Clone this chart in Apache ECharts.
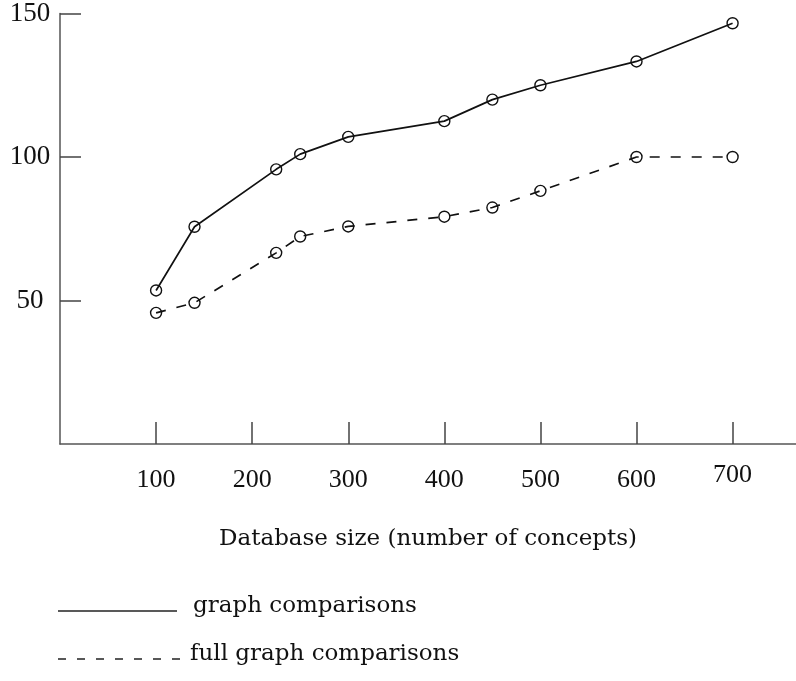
<!DOCTYPE html>
<html>
<head>
<meta charset="UTF-8">
<title>Database size chart</title>
<script src="https://cdn.jsdelivr.net/npm/echarts@6/dist/echarts.min.js"></script>
<style>
	html, body { margin: 0; padding: 0; background: #fff; }
	#main { width: 796px; height: 681px; }
</style>
</head>
<body>
	<div id="main"></div>
	<script>
		// database size (number of concepts)
		var sizes = [100, 140, 225, 250, 300, 400, 450, 500, 600, 700];
		var graphComp = [53.5, 75.7, 95.7, 101, 107, 112.5, 120, 125, 133.3, 146.6];
		var fullGraphComp = [45.7, 49.2, 66.6, 72.3, 75.8, 79.2, 82.4, 88.2, 100, 100];
		var xTicks = [100, 200, 300, 400, 500, 600, 700];
		var yTicks = [50, 100, 150];

		var serif = 'Liberation Serif';
		var textFont = 'DejaVu Serif';

		function pairs(xs, ys) {
			var out = [];
			for (var i = 0; i < xs.length; i++) out.push([xs[i], ys[i]]);
			return out;
		}

		var myChart = echarts.init(document.getElementById('main'));

		var option = {
			animation: false,
			grid: { left: 60, top: 12, right: 0, bottom: 237 },
			xAxis: {
				type: 'value',
				min: 0,
				max: 766,
				name: 'Database size (number of concepts)',
				nameLocation: 'middle',
				nameGap: 84,
				nameTextStyle: { fontFamily: textFont, fontSize: 23, color: '#111', verticalAlign: 'top' },
				axisLine: { lineStyle: { color: '#555', width: 1.5 } },
				axisTick: { inside: true, length: 22, customValues: xTicks, lineStyle: { color: '#444', width: 1.5 } },
				axisLabel: {
					customValues: xTicks,
					margin: 36,
					verticalAlign: 'middle',
					fontFamily: serif,
					fontSize: 26,
					color: '#111',
					formatter: function (v) { return v === 700 ? '{h|700}' : String(v); },
					rich: { h: { fontFamily: serif, fontSize: 26, color: '#111', padding: [0, 0, 9, 0] } }
				},
				splitLine: { show: false }
			},
			yAxis: {
				type: 'value',
				min: 0,
				max: 150,
				axisLine: { show: true, lineStyle: { color: '#555', width: 1.5 } },
				axisTick: { show: true, inside: true, length: 21, customValues: yTicks, lineStyle: { color: '#444', width: 1.5 } },
				axisLabel: {
					customValues: yTicks,
					margin: 30,
					align: 'center',
					verticalAlign: 'middle',
					fontFamily: serif,
					fontSize: 27,
					color: '#111',
					padding: [6, 0, 0, 0]
				},
				splitLine: { show: false }
			},
			series: [
				{
					name: 'graph comparisons',
					type: 'line',
					data: pairs(sizes, graphComp),
					symbol: 'circle',
					symbolSize: 11,
					lineStyle: { color: '#111', width: 1.7 },
					itemStyle: { color: 'rgba(0,0,0,0)', borderColor: '#111', borderWidth: 1.4 }
				},
				{
					name: 'full graph comparisons',
					type: 'line',
					data: pairs(sizes, fullGraphComp),
					symbol: 'circle',
					symbolSize: 11,
					lineStyle: { color: '#111', width: 1.7, type: [10, 11] },
					itemStyle: { color: 'rgba(0,0,0,0)', borderColor: '#111', borderWidth: 1.4 }
				}
			],
			// legend drawn by hand, like the original figure
			graphic: [
				{ type: 'line', shape: { x1: 58, y1: 611, x2: 177, y2: 611 }, style: { stroke: '#222', lineWidth: 1.5 } },
				{ type: 'text', x: 193, y: 606, style: { text: 'graph comparisons', font: '23px "DejaVu Serif"', fill: '#111', verticalAlign: 'middle' } },
				{ type: 'line', shape: { x1: 58, y1: 659, x2: 180, y2: 659 }, style: { stroke: '#222', lineWidth: 1.5, lineDash: [8, 11] } },
				{ type: 'text', x: 190, y: 654, style: { text: 'full graph comparisons', font: '23px "DejaVu Serif"', fill: '#111', verticalAlign: 'middle' } }
			]
		};

		myChart.setOption(option);
	</script>
</body>
</html>
